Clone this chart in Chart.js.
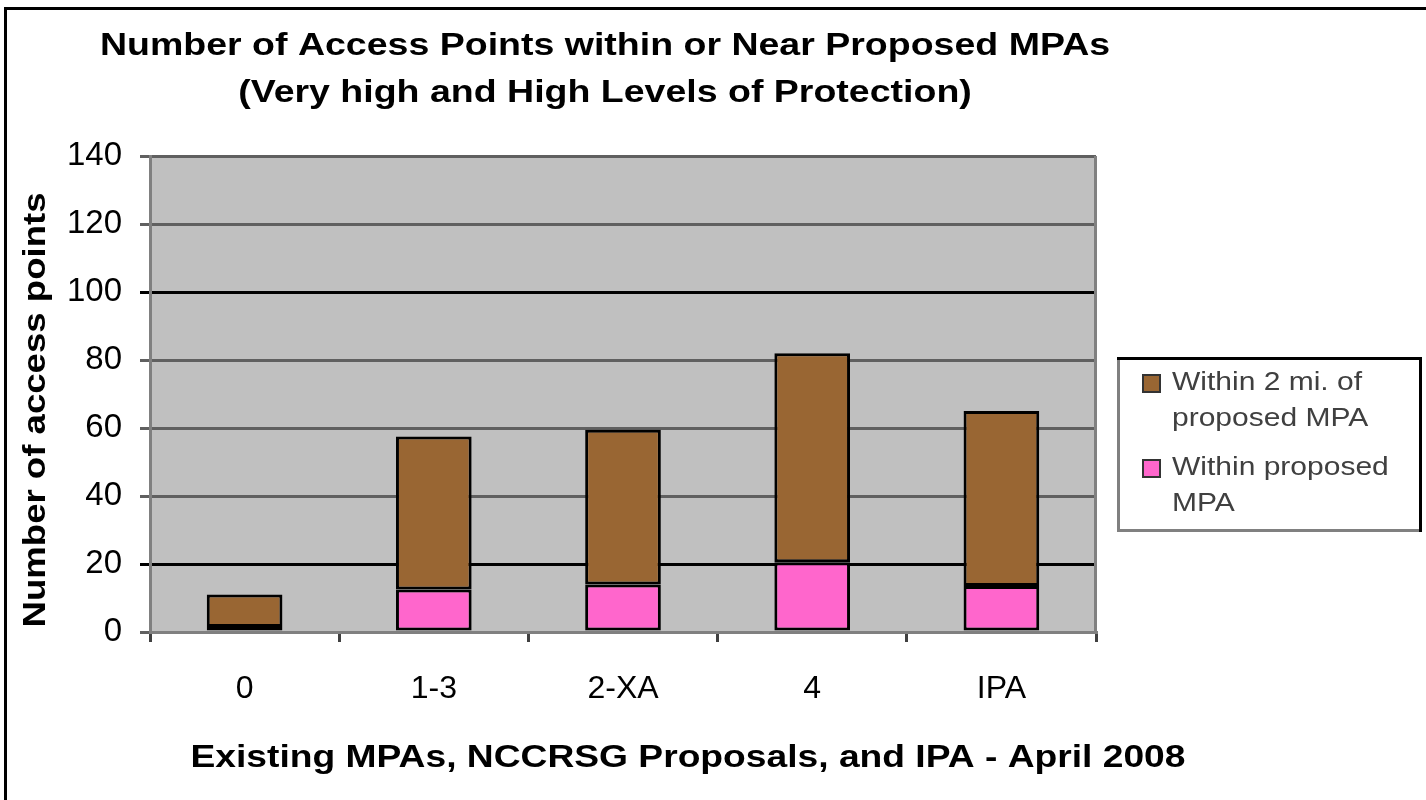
<!DOCTYPE html>
<html>
<head>
<meta charset="utf-8">
<script src="https://cdn.jsdelivr.net/npm/chart.js@4.4.1/dist/chart.umd.min.js"></script>
<style>
  body { margin: 0; background: #fff; }
  #chart { display: block; }
</style>
</head>
<body>
<canvas id="chart" width="1426" height="800"></canvas>
<script>
const categories = ["0", "1-3", "2-XA", "4", "IPA"];
const withinMpa = [1.5, 12.5, 14, 20.5, 13.5];
const within2mi = [9.5, 45, 45.5, 61.5, 51.5];
const yTicks = [0, 20, 40, 60, 80, 100, 120, 140];

const titleLines = [
  "Number of Access Points within or Near Proposed MPAs",
  "(Very high and High Levels of Protection)"
];
const xTitle = "Existing MPAs, NCCRSG Proposals, and IPA - April 2008";
const yTitle = "Number of access points";
const legendItems = [
  { lines: ["Within 2 mi. of", "proposed MPA"], color: "#996633" },
  { lines: ["Within proposed", "MPA"], color: "#ff66cc" }
];

const FONT = "'Liberation Sans', Arial, sans-serif";

// the old picture's text is a bit wider than the font, so stretch it sideways
function wideText(ctx, text, x, y, sx) {
  ctx.save();
  ctx.translate(x, y);
  ctx.scale(sx, 1);
  ctx.fillText(text, 0, 0);
  ctx.restore();
}

// background, frame, titles and the two-line legend
const decor = {
  id: "decor",
  beforeDraw(chart) {
    const { ctx, chartArea: a } = chart;
    ctx.save();
    ctx.fillStyle = "#fff";
    ctx.fillRect(0, 0, chart.width, chart.height);
    ctx.fillStyle = "#c0c0c0";
    ctx.fillRect(a.left, a.top, a.right - a.left, a.bottom - a.top);
    ctx.restore();
  },
  afterDraw(chart) {
    const { ctx, chartArea: a } = chart;
    ctx.save();

    // outer frame (left + top)
    ctx.fillStyle = "#000";
    ctx.fillRect(4, 7, 3, chart.height - 7);
    ctx.fillRect(4, 7, chart.width - 4, 3);

    // plot area right edge
    ctx.fillStyle = "#808080";
    ctx.fillRect(a.right - 2, a.top, 3, a.bottom - a.top);

    // titles
    ctx.fillStyle = "#000";
    ctx.textAlign = "center";
    ctx.textBaseline = "middle";
    ctx.font = "bold 31px " + FONT;
    wideText(ctx, titleLines[0], 605, 46, 1.21);
    wideText(ctx, titleLines[1], 605, 93, 1.21);
    wideText(ctx, xTitle, 688, 758, 1.2);

    ctx.save();
    ctx.translate(36, 410);
    ctx.rotate(-Math.PI / 2);
    ctx.scale(1.18, 1);
    ctx.fillText(yTitle, 0, 0);
    ctx.restore();

    // legend box
    const lx = 1117, ly = 357, lw = 305, lh = 175;
    ctx.fillStyle = "#fff";
    ctx.fillRect(lx, ly, lw, lh);
    ctx.fillStyle = "#808080";
    ctx.fillRect(lx, ly, 3, lh);
    ctx.fillRect(lx, ly + lh - 3, lw, 3);
    ctx.fillStyle = "#000";
    ctx.fillRect(lx, ly, lw, 3);
    ctx.fillRect(lx + lw - 3, ly, 3, lh);

    ctx.textAlign = "left";
    ctx.font = "25px " + FONT;
    legendItems.forEach((item, i) => {
      const y0 = ly + 26 + i * 85;
      ctx.fillStyle = item.color;
      ctx.fillRect(1143, y0 - 8, 17, 17);
      ctx.strokeStyle = "#333";
      ctx.lineWidth = 2;
      ctx.strokeRect(1143, y0 - 8, 17, 17);
      ctx.fillStyle = "#404040";
      item.lines.forEach((line, j) => {
        wideText(ctx, line, 1172, y0 + j * 36, 1.2);
      });
    });

    ctx.restore();
  }
};

new Chart(document.getElementById("chart"), {
  type: "bar",
  data: {
    labels: categories,
    datasets: [
      {
        label: "Within proposed MPA",
        data: withinMpa,
        backgroundColor: "#ff66cc",
        borderColor: "#000",
        borderWidth: 3,
        borderSkipped: false
      },
      {
        label: "Within 2 mi. of proposed MPA",
        data: within2mi,
        backgroundColor: "#996633",
        borderColor: "#000",
        borderWidth: 3,
        borderSkipped: false
      }
    ]
  },
  options: {
    responsive: false,
    animation: false,
    layout: { padding: { top: 156, right: 330, left: 0, bottom: 0 } },
    datasets: {
      bar: { barPercentage: 0.4, categoryPercentage: 1 }
    },
    plugins: {
      legend: { display: false },
      title: { display: false },
      tooltip: { enabled: false }
    },
    scales: {
      x: {
        stacked: true,
        afterFit: s => { s.height = 168; },
        grid: {
          offset: true,
          drawOnChartArea: false,
          tickLength: 10,
          tickColor: "#404040",
          lineWidth: 3
        },
        border: { color: "#808080", width: 3 },
        ticks: {
          color: "#000",
          padding: 28,
          font: { family: FONT, size: 32 }
        }
      },
      y: {
        stacked: true,
        min: 0,
        max: 140,
        afterFit: s => { s.width = 150; },
        afterBuildTicks: s => { s.ticks = yTicks.map(v => ({ value: v })); },
        grid: {
          color: c => (c.tick && (c.tick.value === 100 || c.tick.value === 20)) ? "#000" : "#606060",
          lineWidth: 3,
          tickLength: 10
        },
        border: { color: "#808080", width: 3 },
        ticks: {
          color: "#000",
          padding: 18,
          font: { family: FONT, size: 33 }
        }
      }
    }
  },
  plugins: [decor]
});
</script>
</body>
</html>
